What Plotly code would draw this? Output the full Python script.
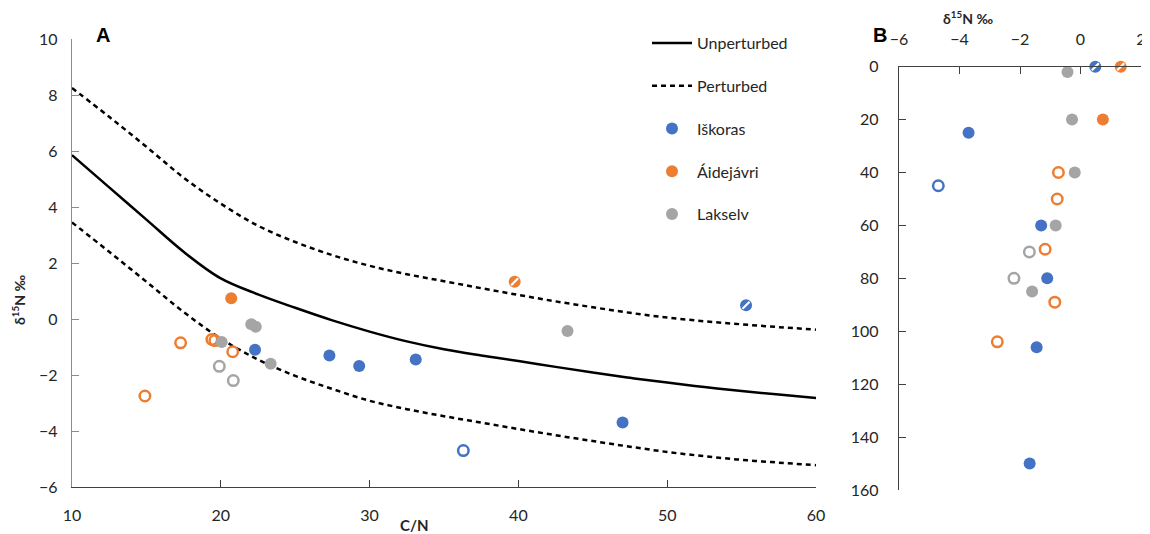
import plotly.graph_objects as go

# ---------------- data ----------------
# Model curves (C/N vs d15N)
curve_cn = [10, 12.5, 15, 17.5, 20, 22.5, 25, 27.5, 30, 32.5, 35, 37.5, 40, 42.5, 45, 47.5, 50, 52.5, 55, 57.5, 60]
unperturbed = [5.85, 4.70, 3.55, 2.40, 1.45, 0.88, 0.40, -0.05, -0.45, -0.80, -1.08, -1.30, -1.50, -1.71, -1.91, -2.10, -2.27, -2.43, -2.57, -2.70, -2.82]
perturbed_hi = [8.25, 7.22, 6.15, 5.05, 4.12, 3.33, 2.75, 2.28, 1.90, 1.60, 1.35, 1.10, 0.86, 0.63, 0.42, 0.22, 0.05, -0.08, -0.19, -0.29, -0.38]
perturbed_lo = [3.45, 2.40, 1.33, 0.25, -0.70, -1.45, -2.03, -2.50, -2.92, -3.22, -3.47, -3.70, -3.93, -4.15, -4.36, -4.56, -4.75, -4.90, -5.03, -5.13, -5.22]

# Iškoras
isk_cn = [47.0, 27.3, 22.3, 33.1, 29.3]
isk_d15n = [-3.70, -1.30, -1.10, -1.45, -1.68]
isk_depth = [25, 60, 80, 106, 150]
isk_open_cn = [36.3]
isk_open_d15n = [-4.70]
isk_open_depth = [45]
isk_hatch_cn = [55.3]
isk_hatch_d15n = [0.49]
isk_hatch_depth = [0]

# Áidejávri
aid_cn = [20.7]
aid_d15n = [0.74]
aid_depth = [20]
aid_open_cn = [19.4, 19.6, 20.8, 17.3, 14.9]
aid_open_d15n = [-0.73, -0.77, -1.17, -0.85, -2.75]
aid_open_depth = [40, 50, 69, 89, 104]
aid_hatch_cn = [39.75]
aid_hatch_d15n = [1.33]
aid_hatch_depth = [0]

# Lakselv
lak_cn = [43.3, 22.35, 22.05, 20.06, 23.35]
lak_d15n = [-0.43, -0.28, -0.19, -0.82, -1.60]
lak_depth = [2, 20, 40, 60, 85]
lak_open_cn = [19.9, 20.84]
lak_open_d15n = [-1.69, -2.20]
lak_open_depth = [70, 80]

BLUE = "#4472C4"
ORANGE = "#ED7D31"
GRAY = "#A5A5A5"
FONT = "Lato"
TXT = "#262626"

fig = go.Figure()

# ---------------- panel A curves ----------------
LINE_SHAPE = dict(shape="spline", smoothing=1.0)
fig.add_trace(go.Scatter(x=curve_cn, y=unperturbed, mode="lines", name="Unperturbed",
                         line=dict(color="black", width=2.5, **LINE_SHAPE),
                         legendgroup="u", xaxis="x", yaxis="y"))
fig.add_trace(go.Scatter(x=curve_cn, y=perturbed_hi, mode="lines", name="Perturbed",
                         line=dict(color="black", width=2.5, dash="5px,4px", **LINE_SHAPE),
                         legendgroup="p", xaxis="x", yaxis="y"))
fig.add_trace(go.Scatter(x=curve_cn, y=perturbed_lo, mode="lines", name="Perturbed",
                         line=dict(color="black", width=2.5, dash="5px,4px", **LINE_SHAPE),
                         legendgroup="p", showlegend=False, xaxis="x", yaxis="y"))

FILLED_SIZE = 12
OPEN_SIZE = 10.5


def add_site(name, color, cn, d, depth, ocn, od, odepth, hcn, hd, hdepth, grp):
    # panel A
    if ocn:
        fig.add_trace(go.Scatter(x=ocn, y=od, mode="markers", showlegend=False, legendgroup=grp,
                                 marker=dict(symbol="circle-open", size=OPEN_SIZE, color=color,
                                             line=dict(width=2.5, color=color)),
                                 xaxis="x", yaxis="y", name=name))
    if hcn:
        fig.add_trace(go.Scatter(x=hcn, y=hd, mode="markers", showlegend=False, legendgroup=grp,
                                 marker=dict(symbol="circle", size=FILLED_SIZE, color=color),
                                 xaxis="x", yaxis="y", name=name))
        fig.add_trace(go.Scatter(x=hcn, y=hd, mode="markers", showlegend=False, legendgroup=grp,
                                 marker=dict(symbol="line-ne", size=7, color="white",
                                             line=dict(width=2.2, color="white")),
                                 xaxis="x", yaxis="y", name=name, hoverinfo="skip"))
    fig.add_trace(go.Scatter(x=cn, y=d, mode="markers", name=name, legendgroup=grp,
                             marker=dict(symbol="circle", size=FILLED_SIZE, color=color),
                             xaxis="x", yaxis="y"))
    # panel B
    if od:
        fig.add_trace(go.Scatter(x=od, y=odepth, mode="markers", showlegend=False, legendgroup=grp,
                                 marker=dict(symbol="circle-open", size=OPEN_SIZE, color=color,
                                             line=dict(width=2.5, color=color)),
                                 xaxis="x2", yaxis="y2", name=name))
    if hd:
        fig.add_trace(go.Scatter(x=hd, y=hdepth, mode="markers", showlegend=False, legendgroup=grp,
                                 marker=dict(symbol="circle", size=FILLED_SIZE, color=color),
                                 xaxis="x2", yaxis="y2", name=name, cliponaxis=False))
        fig.add_trace(go.Scatter(x=hd, y=hdepth, mode="markers", showlegend=False, legendgroup=grp,
                                 marker=dict(symbol="line-ne", size=7, color="white",
                                             line=dict(width=2.2, color="white")),
                                 xaxis="x2", yaxis="y2", name=name, hoverinfo="skip", cliponaxis=False))
    fig.add_trace(go.Scatter(x=d, y=depth, mode="markers", showlegend=False, legendgroup=grp,
                             marker=dict(symbol="circle", size=FILLED_SIZE, color=color),
                             xaxis="x2", yaxis="y2", name=name, cliponaxis=False))


add_site("Iškoras", BLUE, isk_cn, isk_d15n, isk_depth, isk_open_cn, isk_open_d15n, isk_open_depth,
         isk_hatch_cn, isk_hatch_d15n, isk_hatch_depth, "i")
add_site("Áidejávri", ORANGE, aid_cn, aid_d15n, aid_depth, aid_open_cn, aid_open_d15n, aid_open_depth,
         aid_hatch_cn, aid_hatch_d15n, aid_hatch_depth, "a")
add_site("Lakselv", GRAY, lak_cn, lak_d15n, lak_depth, lak_open_cn, lak_open_d15n, lak_open_depth,
         [], [], [], "l")

# ---------------- layout ----------------
W, H = 1150, 534
OFF = 8  # page body margin offset
ML, MR, MT, MB = 2, 2, 2, 2
PW, PH = W - ML - MR, H - MT - MB


def px_x(p):
    return (p - OFF - ML) / PW


def px_y(p):
    return (H - MB - (p - OFF)) / PH


tickfont = dict(family=FONT, size=16, color=TXT)
common = dict(showgrid=False, zeroline=False, automargin=False, tickfont=tickfont,
              showline=True, linewidth=1.3, ticks="inside", ticklen=7, tickwidth=1.3)

fig.update_layout(
    width=W, height=H,
    margin=dict(l=ML, r=MR, t=MT, b=MB, autoexpand=False),
    paper_bgcolor="white", plot_bgcolor="white",
    font=dict(family=FONT, color=TXT),
    xaxis=dict(domain=[px_x(72), px_x(816)], range=[10, 60], dtick=10, tick0=10,
               linecolor="#404040", tickcolor="#404040", ticklabelstandoff=14,
               anchor="y", **common),
    yaxis=dict(domain=[px_y(487), px_y(39)], range=[-6, 10], dtick=2, tick0=-6,
               linecolor="#8c8c8c", tickcolor="#8c8c8c", ticklabelstandoff=10,
               anchor="x", **common),
    xaxis2=dict(domain=[px_x(899), px_x(1141)], range=[-6, 2], dtick=2, tick0=-6, side="top",
                linecolor="#404040", tickcolor="#404040", ticklabelstandoff=14,
                anchor="y2", **common),
    yaxis2=dict(domain=[px_y(490), px_y(66.7)], range=[160, 0], dtick=20, tick0=0,
                linecolor="#404040", tickcolor="#404040", ticklabelstandoff=16,
                anchor="x2", **common),
    legend=dict(x=px_x(647), y=px_y(26), xanchor="left", yanchor="top",
                font=dict(family=FONT, size=16, color=TXT),
                tracegroupgap=19, bgcolor="rgba(0,0,0,0)", itemwidth=40),
    showlegend=True,
)

annots = [
    dict(text="<b>A</b>", x=px_x(103), y=px_y(35), font=dict(size=20, family="Liberation Sans", color="black")),
    dict(text="<b>B</b>", x=px_x(880), y=px_y(35), font=dict(size=20, family="Liberation Sans", color="black")),
    dict(text="<b>C/N</b>", x=px_x(414), y=px_y(525), font=dict(size=15, family=FONT, color=TXT)),
    dict(text="<b>δ<sup>15</sup>N ‰</b>", x=px_x(18), y=px_y(300), textangle=-90,
         font=dict(size=14, family=FONT, color=TXT)),
    dict(text="<b>δ<sup>15</sup>N ‰</b>", x=px_x(968), y=px_y(18),
         font=dict(size=14, family=FONT, color=TXT)),
]
for a in annots:
    fig.add_annotation(xref="paper", yref="paper", showarrow=False, xanchor="center", yanchor="middle", **a)

fig.write_html("out.html")
